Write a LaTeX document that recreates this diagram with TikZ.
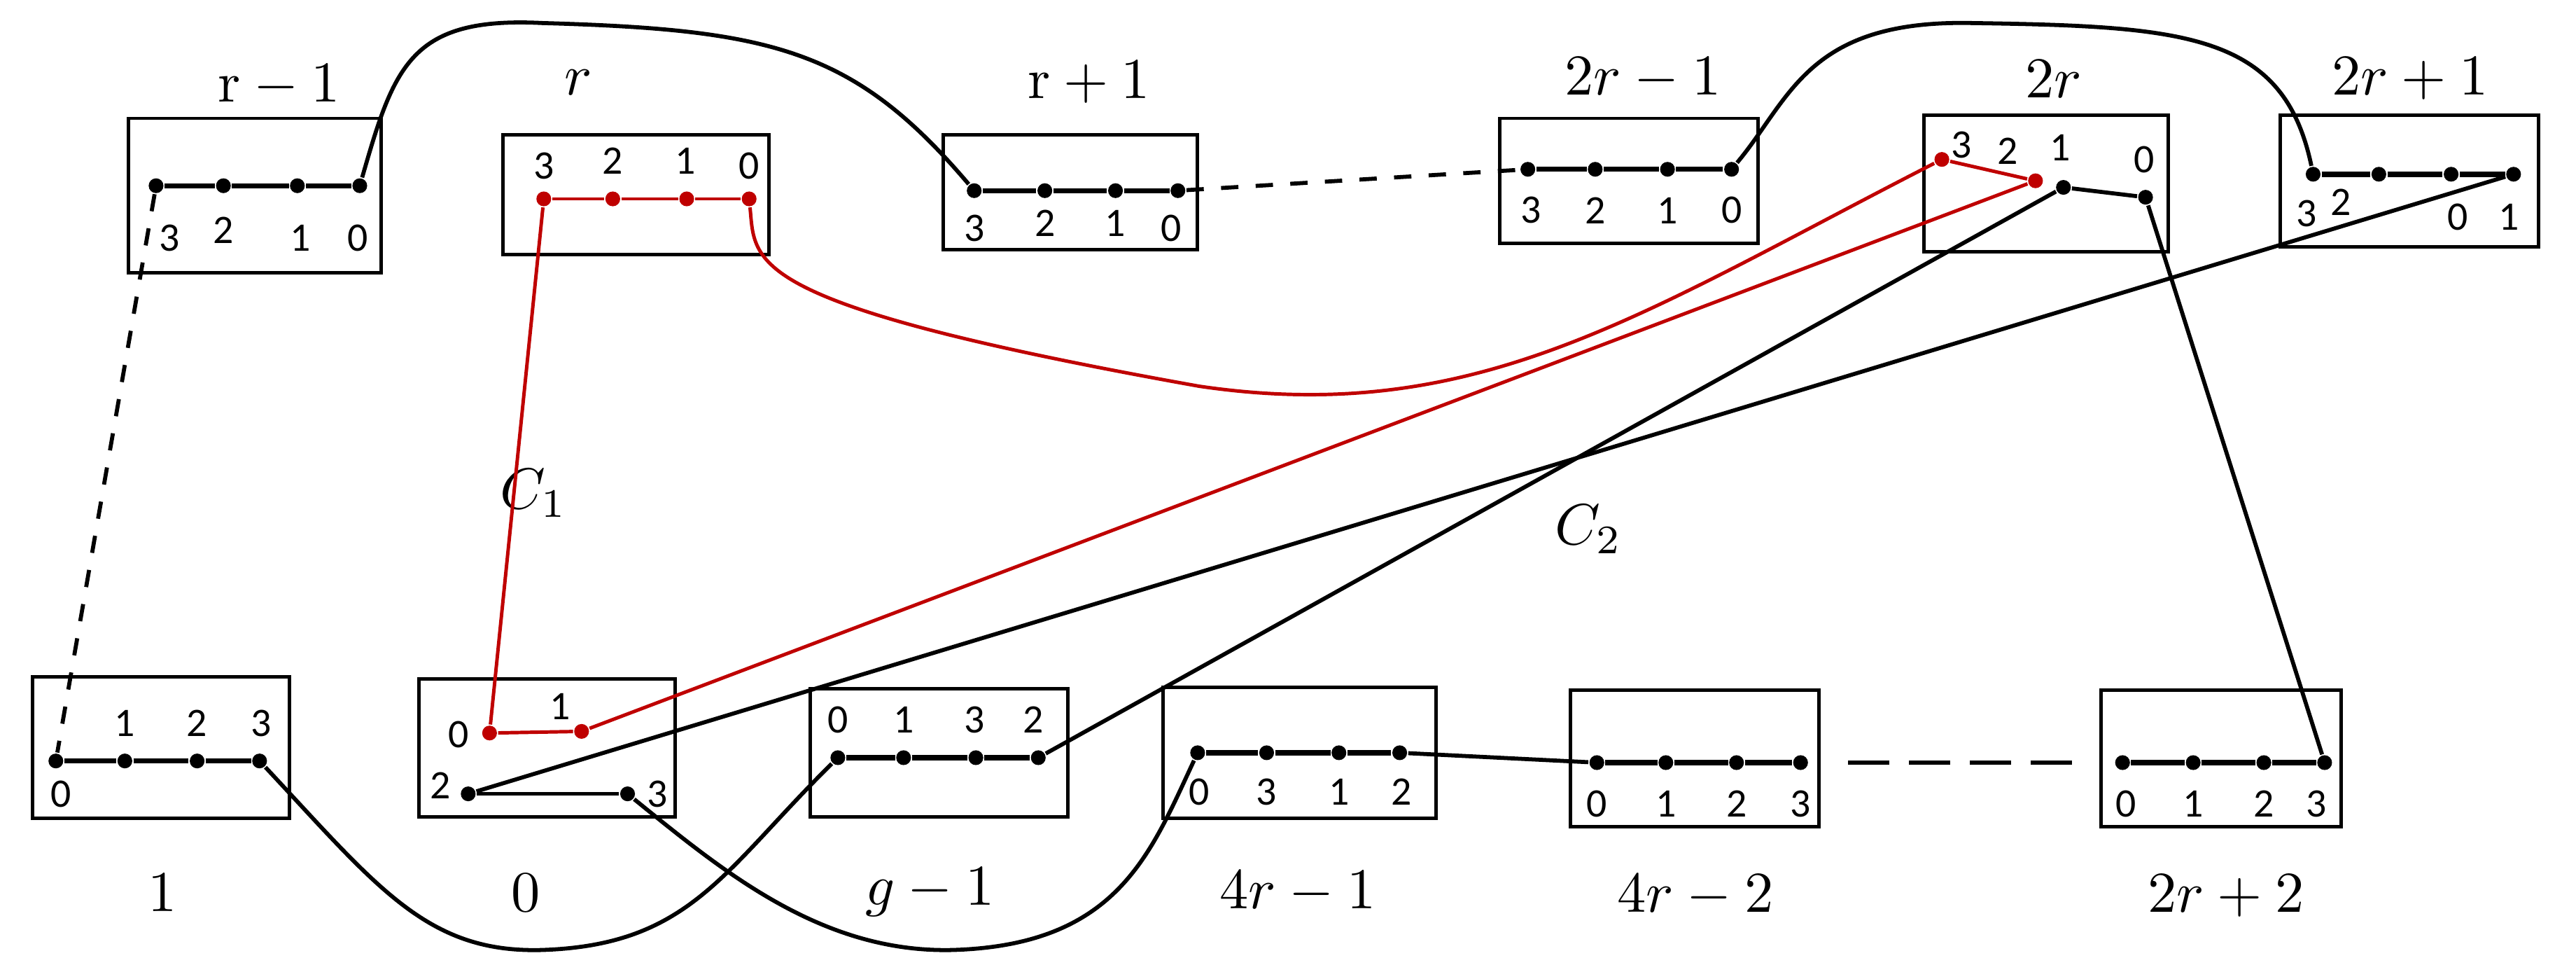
\documentclass[tikz,border=0pt]{standalone}
\usepackage{fontspec}
\newfontfamily\digitfont{Carlito}
\usetikzlibrary{positioning}
\begin{document}
\begin{tikzpicture}[x=0.01cm,y=-0.01cm]
  \tikzset{
    dot/.style={circle,fill=black,inner sep=0pt,minimum size=0.09cm},
    rdot/.style={dot,fill=red!75!black},
    box/.style={draw,line width=0.6pt},
    num/.style={font=\digitfont\fontsize{7}{8}\selectfont,inner sep=0pt},
    lab/.style={font=\fontsize{10}{11}\selectfont,inner sep=0pt},
    row/.style={line width=0.9pt},
    link/.style={line width=0.7pt},
    red path/.style={red!75!black,line width=0.6pt}
  }
  \useasboundingbox (0,0) rectangle (1568,587);
  % top boxes
  \draw [box] (78,72) rectangle (232,166);
  \draw [box] (306,82) rectangle (468,155);
  \draw [box] (574,82) rectangle (729,152);
  \draw [box] (913,72) rectangle (1070,148);
  \draw [box] (1171,70) rectangle (1320,153);
  \draw [box] (1388,70) rectangle (1545,150);
  % bottom boxes
  \draw [box] (20,412) rectangle (176,498);
  \draw [box] (255,413) rectangle (411,497);
  \draw [box] (493,419) rectangle (650,497);
  \draw [box] (708,418) rectangle (874,498);
  \draw [box] (956,420) rectangle (1107,503);
  \draw [box] (1279,420) rectangle (1425,503);
  % box labels
  \node [lab] at (170,52) {$\mathrm{r}-1$};
  \node [lab] at (352,50) {$r$};
  \node [lab] at (663,50) {$\mathrm{r}+1$};
  \node [lab] at (1000,48) {$2r-1$};
  \node [lab] at (1250,48) {$2r$};
  \node [lab] at (1467,48) {$2r+1$};
  \node [lab] at (99,543) {$1$};
  \node [lab] at (320,543) {$0$};
  \node [lab] at (566,543) {$g-1$};
  \node [lab] at (790,543) {$4r-1$};
  \node [lab] at (1032,545) {$4r-2$};
  \node [lab] at (1355,545) {$2r+2$};
  \node [lab] at (325,300) {$C_1$};
  \node [lab] at (967,322) {$C_2$};
  % dots: r-1
  \node [dot] (a3) at (95,113) {};
  \node [dot] (a2) at (136,113) {};
  \node [dot] (a1) at (181,113) {};
  \node [dot] (a0) at (219,113) {};
  % r
  \node [rdot] (b3) at (331,121) {};
  \node [rdot] (b2) at (373,121) {};
  \node [rdot] (b1) at (418,121) {};
  \node [rdot] (b0) at (456,121) {};
  % r+1
  \node [dot] (c3) at (593,116) {};
  \node [dot] (c2) at (636,116) {};
  \node [dot] (c1) at (679,116) {};
  \node [dot] (c0) at (717,116) {};
  % 2r-1
  \node [dot] (d3) at (930,103) {};
  \node [dot] (d2) at (971,103) {};
  \node [dot] (d1) at (1015,103) {};
  \node [dot] (d0) at (1054,103) {};
  % 2r
  \node [rdot] (e3) at (1182,97) {};
  \node [rdot] (e2) at (1239,110) {};
  \node [dot] (e1) at (1256,114) {};
  \node [dot] (e0) at (1306,120) {};
  % 2r+1
  \node [dot] (f3) at (1408,106) {};
  \node [dot] (f2) at (1448,106) {};
  \node [dot] (f0) at (1492,106) {};
  \node [dot] (f1) at (1530,106) {};
  % 1
  \node [dot] (g0) at (34,463) {};
  \node [dot] (g1) at (76,463) {};
  \node [dot] (g2) at (120,463) {};
  \node [dot] (g3) at (158,463) {};
  % 0
  \node [rdot] (h0) at (298,446) {};
  \node [rdot] (h1) at (354,445) {};
  \node [dot] (h2) at (285,483) {};
  \node [dot] (h3) at (382,483) {};
  % g-1
  \node [dot] (i0) at (510,461) {};
  \node [dot] (i1) at (550,461) {};
  \node [dot] (i3) at (594,461) {};
  \node [dot] (i2) at (632,461) {};
  % 4r-1
  \node [dot] (j0) at (729,458) {};
  \node [dot] (j3) at (771,458) {};
  \node [dot] (j1) at (815,458) {};
  \node [dot] (j2) at (852,458) {};
  % 4r-2
  \node [dot] (k0) at (972,464) {};
  \node [dot] (k1) at (1014,464) {};
  \node [dot] (k2) at (1057,464) {};
  \node [dot] (k3) at (1096,464) {};
  % 2r+2
  \node [dot] (l0) at (1292,464) {};
  \node [dot] (l1) at (1335,464) {};
  \node [dot] (l2) at (1378,464) {};
  \node [dot] (l3) at (1415,464) {};
  \coordinate (kd) at (1125,464);
  \coordinate (ld) at (1262,464);
  % digit labels
  \foreach \t/\x/\y in {3/103/145,2/136/140,1/183/145,0/218/145,
      3/331/101,2/373/98,1/417/98,0/456/101,
      3/593/139,2/636/136,1/679/136,0/713/139,
      3/932/128,2/971/128,1/1015/128,0/1054/128,
      3/1194/88,2/1222/92,1/1254/90,0/1305/97,
      3/1404/130,2/1425/123,0/1496/132,1/1527/132,
      0/37/483,1/76/440,2/120/440,3/159/440,
      0/279/447,1/341/430,2/268/478,3/400/483,
      0/510/438,1/550/438,3/593/438,2/629/438,
      0/730/482,3/771/482,1/815/482,2/853/482,
      0/972/489,1/1014/489,2/1057/489,3/1096/489,
      0/1294/489,1/1335/489,2/1378/489,3/1410/489}
    \node [num] at (\x,\y) {\t};
  % rows
  \draw [row] (a3) -- (a2) -- (a1) -- (a0);
  \draw [row] (c3) -- (c2) -- (c1) -- (c0);
  \draw [row] (d3) -- (d2) -- (d1) -- (d0);
  \draw [row] (f3) -- (f2) -- (f0) -- (f1);
  \draw [row] (g0) -- (g1) -- (g2) -- (g3);
  \draw [row] (i0) -- (i1) -- (i3) -- (i2);
  \draw [row] (j0) -- (j3) -- (j1) -- (j2);
  \draw [row] (k0) -- (k1) -- (k2) -- (k3);
  \draw [row] (l0) -- (l1) -- (l2) -- (l3);
  \draw [link] (h2) -- (h3);
  \draw [link] (e1) -- (e0);
  % red cycle
  \draw [red path] (b3) -- (b2) -- (b1) -- (b0);
  \draw [red path] (b3) -- (h0) -- (h1) -- (e2) -- (e3);
  \draw [red path] (b0) .. controls (460,160) and (450,185) .. (730,235)
    .. controls (900,260) and (1000,190) .. (e3);
  % black connectors
  \draw [link] (a0) .. controls (240,40) and (250,10) .. (330,14)
    .. controls (470,18) and (520,30) .. (c3);
  \draw [link] (d0) .. controls (1090,60) and (1100,12) .. (1200,14)
    .. controls (1330,16) and (1390,20) .. (f3);
  \draw [link,dashed] (c0) -- (d3);
  \draw [link,dashed] (a3) -- (g0);
  \draw [link] (h2) -- (f1);
  \draw [link] (i2) -- (e1);
  \draw [link] (e0) -- (l3);
  \draw [link] (j2) -- (k0);
  \draw [link,dash pattern=on 0.25cm off 0.12cm] (kd) -- (ld);
  \draw [link] (g3) .. controls (230,540) and (260,580) .. (330,578)
    .. controls (420,575) and (440,530) .. (i0);
  \draw [link] (h3) .. controls (440,530) and (500,580) .. (580,578)
    .. controls (680,575) and (700,520) .. (j0);
\end{tikzpicture}
\end{document}
